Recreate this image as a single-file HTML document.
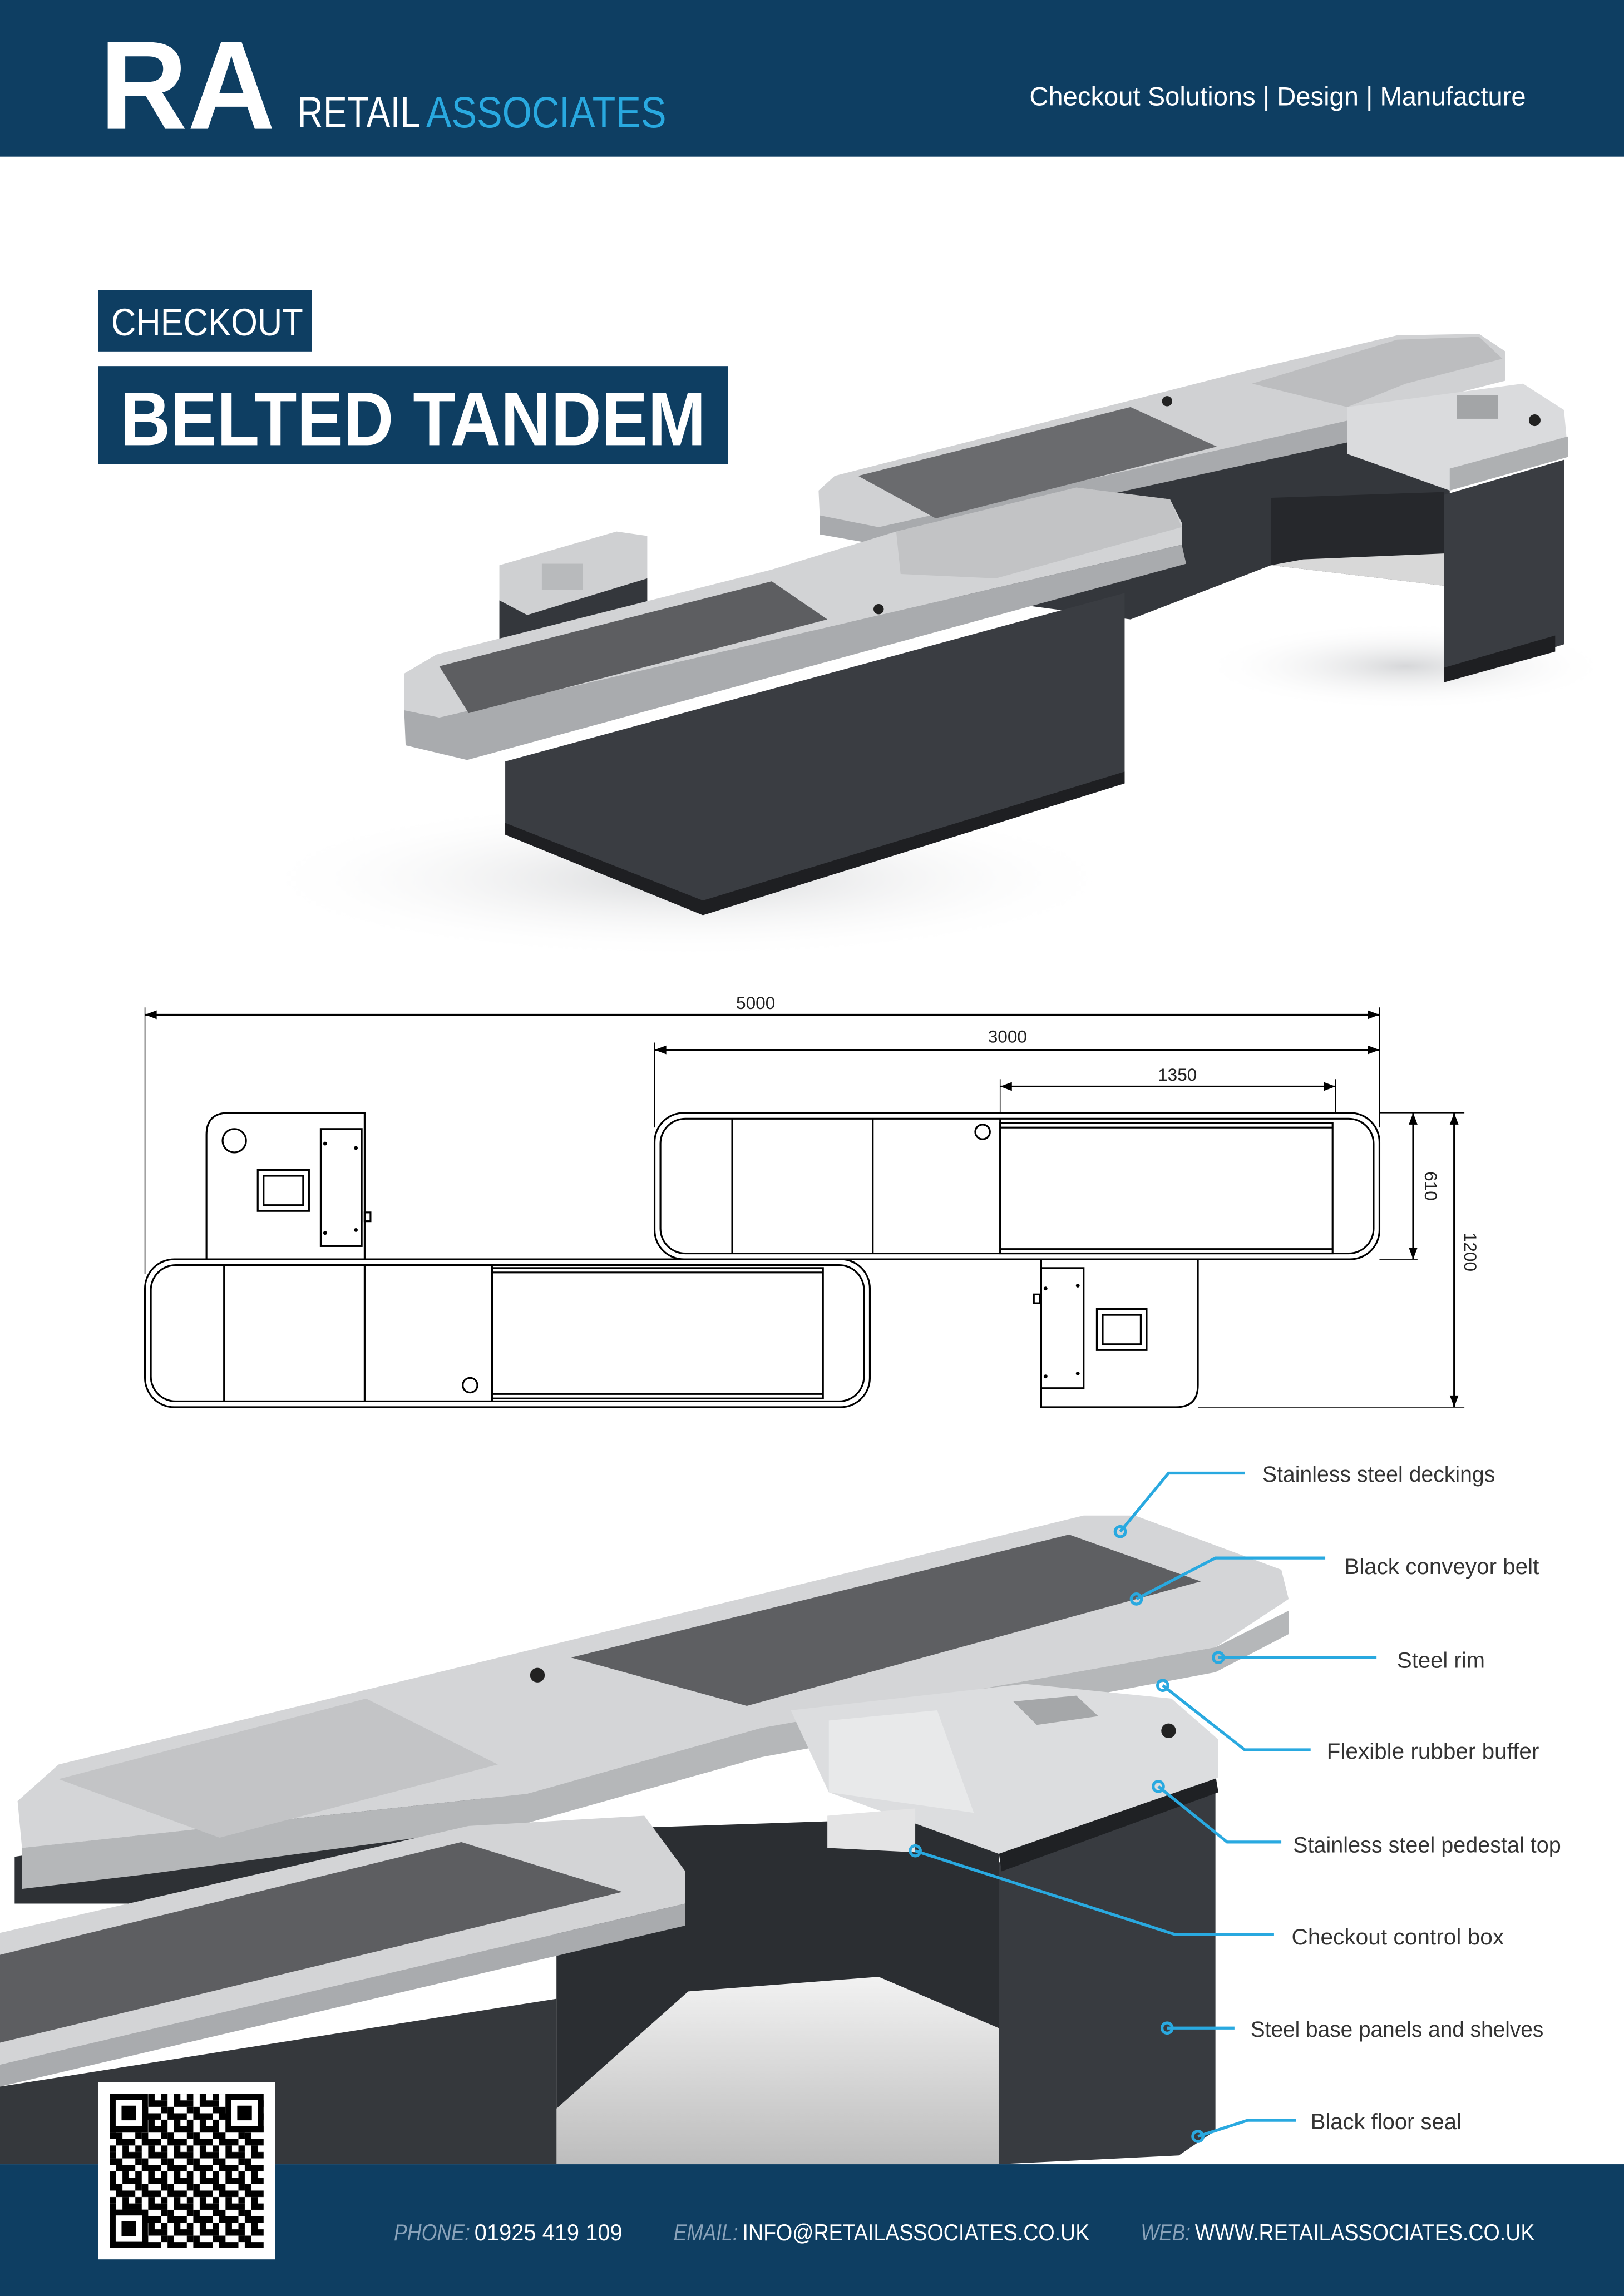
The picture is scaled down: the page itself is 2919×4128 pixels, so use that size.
<!DOCTYPE html>
<html><head><meta charset="utf-8"><style>
html,body{margin:0;padding:0;background:#fff;}
svg{display:block;}
</style></head><body>
<svg xmlns="http://www.w3.org/2000/svg" width="2919" height="4128" viewBox="0 0 1109 1568" preserveAspectRatio="none">
<defs>
<radialGradient id="sh" cx="50%" cy="50%" r="50%"><stop offset="0" stop-color="#d6d7d9"/><stop offset="1" stop-color="#fff" stop-opacity="0"/></radialGradient>
<linearGradient id="fl" x1="0" y1="0" x2="0" y2="1"><stop offset="0" stop-color="#f2f2f2"/><stop offset="1" stop-color="#bdbdbd"/></linearGradient>
<pattern id="qr" width="17.6" height="17.6" patternUnits="userSpaceOnUse">
<rect x="0" y="0" width="4.4" height="4.4" fill="#000"/><rect x="8.8" y="0" width="8.8" height="4.4" fill="#000"/>
<rect x="4.4" y="4.4" width="4.4" height="4.4" fill="#000"/><rect x="13.2" y="4.4" width="4.4" height="8.8" fill="#000"/>
<rect x="0" y="8.8" width="8.8" height="4.4" fill="#000"/><rect x="4.4" y="13.2" width="4.4" height="4.4" fill="#000"/>
<rect x="8.8" y="13.2" width="4.4" height="4.4" fill="#000"/>
</pattern>
</defs>

<!-- header -->
<rect x="0" y="0" width="1109" height="107" fill="#0e3e62"/>
<text x="68" y="88" font-family="Liberation Sans, sans-serif" font-weight="bold" font-size="86" fill="#fff" textLength="120" lengthAdjust="spacingAndGlyphs">RA</text>
<text x="203" y="87" font-family="Liberation Sans, sans-serif" font-size="30" fill="#fff" textLength="84" lengthAdjust="spacingAndGlyphs">RETAIL</text>
<text x="291" y="87" font-family="Liberation Sans, sans-serif" font-size="30" fill="#29a9e0" textLength="164" lengthAdjust="spacingAndGlyphs">ASSOCIATES</text>
<text x="703" y="72" font-family="Liberation Sans, sans-serif" font-size="18" fill="#fff" textLength="339" lengthAdjust="spacingAndGlyphs">Checkout Solutions | Design | Manufacture</text>

<!-- titles -->
<rect x="67" y="198" width="146" height="42" fill="#0e3e62"/>
<text x="76" y="229" font-family="Liberation Sans, sans-serif" font-size="26" fill="#fff" textLength="131" lengthAdjust="spacingAndGlyphs">CHECKOUT</text>
<rect x="67" y="250" width="430" height="67" fill="#0e3e62"/>
<text x="82" y="304" font-family="Liberation Sans, sans-serif" font-weight="bold" font-size="52" fill="#fff" textLength="400" lengthAdjust="spacingAndGlyphs">BELTED TANDEM</text>

<!-- top render -->
<ellipse cx="470" cy="600" rx="300" ry="55" fill="url(#sh)"/>
<ellipse cx="960" cy="455" rx="140" ry="30" fill="url(#sh)"/>
<polygon points="600,365 920,300 990,330 990,400 868,386 772,423 600,400" fill="#34373c"/>
<polygon points="868,340 986,336 986,400 868,386" fill="#26282c"/>
<polygon points="890,382 986,378 986,400 868,386" fill="#d8d8d8"/>
<polygon points="986,338 1068,314 1068,440 986,466" fill="#3a3d42"/>
<polygon points="986,456 1062,434 1062,445 986,466" fill="#1e1f22"/>
<polygon points="559,335 570,325 852,253 954,229 1010,228 1028,240 1028,260 930,285 600,360 560,357" fill="#d0d1d3"/>
<polygon points="560,352 600,360 930,285 930,300 600,372 560,365" fill="#a8aaad"/>
<polygon points="586,325 772,278 831,305 639,354" fill="#6a6b6e"/>
<polygon points="855,262 954,232 1010,230 1026,245 960,262 920,278" fill="#bcbdbf"/>
<polygon points="920,278 1040,262 1068,280 1071,312 990,335 920,310" fill="#dadbdd"/>
<polygon points="990,320 1071,298 1071,312 990,335" fill="#aeb0b2"/>
<rect x="995" y="270" width="28" height="16" fill="#a3a5a7"/>
<circle cx="1048" cy="287" r="4" fill="#222"/><circle cx="797" cy="274" r="3.5" fill="#222"/>
<polygon points="341,386 421,363 442,366 442,395 360,420 341,410" fill="#cfd0d2"/>
<polygon points="341,410 360,420 442,395 442,420 341,440" fill="#34373c"/>
<rect x="370" y="385" width="28" height="18" fill="#b8babc"/>
<polygon points="345,520 768,405 768,535 480,625 345,570" fill="#3a3d42"/>
<polygon points="345,562 480,615 768,527 768,535 480,625 345,570" fill="#1e1f22"/>
<polygon points="276,460 298,447 527,389 612,363 735,333 799,341 807,357 807,372 300,490 276,485" fill="#d2d3d5"/>
<polygon points="276,485 300,490 807,372 810,385 319,519 277,509" fill="#a9abae"/>
<polygon points="300,455 527,397 565,423 320,487" fill="#5d5e61"/>
<polygon points="612,363 735,333 799,341 807,360 680,395 615,392" fill="#c2c3c5"/>
<circle cx="600" cy="416" r="3.5" fill="#222"/>

<!-- drawing -->
<g fill="none" stroke="#000" stroke-width="1.2">
<line x1="99" y1="693" x2="942" y2="693"/><line x1="447" y1="717" x2="942" y2="717"/><line x1="683" y1="742" x2="912" y2="742"/>
<line x1="99" y1="688" x2="99" y2="870" stroke-width="0.6"/><line x1="447" y1="712" x2="447" y2="770" stroke-width="0.6"/>
<line x1="942" y1="688" x2="942" y2="770" stroke-width="0.6"/><line x1="683" y1="737" x2="683" y2="760" stroke-width="0.6"/><line x1="912" y1="737" x2="912" y2="760" stroke-width="0.6"/>
<line x1="965" y1="760" x2="965" y2="860"/><line x1="993" y1="760" x2="993" y2="961"/>
<line x1="942" y1="760" x2="1000" y2="760" stroke-width="0.6"/><line x1="942" y1="860" x2="968" y2="860" stroke-width="0.6"/><line x1="818" y1="961" x2="1000" y2="961" stroke-width="0.6"/>
<rect x="447" y="760" width="495" height="100" rx="20"/><rect x="451" y="764" width="487" height="92" rx="17"/>
<line x1="500" y1="764" x2="500" y2="856"/><line x1="596" y1="764" x2="596" y2="856"/><line x1="683" y1="764" x2="683" y2="856"/>
<rect x="683" y="767" width="227" height="89"/><line x1="683" y1="770" x2="910" y2="770"/><line x1="683" y1="853" x2="910" y2="853"/>
<circle cx="671" cy="773" r="5"/>
<path d="M141,860 V775 Q141,760 156,760 H249 V860"/><circle cx="160" cy="779" r="8"/>
<rect x="219" y="771" width="28" height="80"/><rect x="249" y="828" width="4" height="6"/>
<rect x="176" y="799" width="35" height="28"/><rect x="180" y="803" width="27" height="20"/>
<rect x="99" y="860" width="495" height="101" rx="20"/><rect x="103" y="864" width="487" height="93" rx="17"/>
<line x1="153" y1="864" x2="153" y2="957"/><line x1="249" y1="864" x2="249" y2="957"/><line x1="336" y1="864" x2="336" y2="957"/>
<rect x="336" y="866" width="226" height="89"/><line x1="336" y1="869" x2="562" y2="869"/><line x1="336" y1="952" x2="562" y2="952"/>
<circle cx="321" cy="946" r="5"/>
<path d="M711,860 V961 H803 Q818,961 818,946 V860"/>
<rect x="711" y="866" width="29" height="82"/><rect x="706" y="884" width="4" height="6"/>
<rect x="749" y="894" width="34" height="28"/><rect x="753" y="898" width="26" height="20"/>
</g>
<g fill="#000">
<circle cx="222" cy="781" r="1.3"/><circle cx="243" cy="784" r="1.3"/><circle cx="222" cy="842" r="1.3"/><circle cx="243" cy="840" r="1.3"/>
<circle cx="714" cy="880" r="1.3"/><circle cx="736" cy="878" r="1.3"/><circle cx="714" cy="940" r="1.3"/><circle cx="736" cy="938" r="1.3"/>
<polygon points="99,693 107,690 107,696"/><polygon points="942,693 934,690 934,696"/>
<polygon points="447,717 455,714 455,720"/><polygon points="942,717 934,714 934,720"/>
<polygon points="683,742 691,739 691,745"/><polygon points="912,742 904,739 904,745"/>
<polygon points="965,760 962,768 968,768"/><polygon points="965,860 962,852 968,852"/>
<polygon points="993,760 990,768 996,768"/><polygon points="993,961 990,953 996,953"/>
</g>
<g font-family="Liberation Sans, sans-serif" font-size="12" fill="#222">
<text x="516" y="689" text-anchor="middle">5000</text>
<text x="688" y="712" text-anchor="middle">3000</text>
<text x="804" y="738" text-anchor="middle">1350</text>
<text transform="translate(973,810) rotate(90)" text-anchor="middle">610</text>
<text transform="translate(1000,855) rotate(90)" text-anchor="middle">1200</text>
</g>

<!-- bottom render -->
<polygon points="380,1250 682,1240 682,1478 380,1478" fill="#2b2e32"/>
<polygon points="380,1440 470,1360 600,1350 682,1385 682,1478 380,1478" fill="url(#fl)"/>
<polygon points="10,1268 330,1220 330,1300 10,1300" fill="#2e3135"/>
<polygon points="682,1272 830,1220 830,1455 805,1472 682,1478" fill="#383b40"/>
<polygon points="682,1265 830,1212 832,1224 684,1278" fill="#1f2124"/>
<polygon points="12,1230 40,1205 740,1035 775,1035 875,1072 880,1092 830,1125 520,1180 360,1225 15,1262" fill="#d4d5d7"/>
<polygon points="15,1262 360,1225 520,1180 830,1125 880,1100 880,1116 830,1142 520,1200 360,1245 100,1280 15,1290" fill="#b5b7b9"/>
<polygon points="40,1215 250,1160 340,1205 150,1255" fill="#c3c4c6"/>
<polygon points="390,1132 730,1048 820,1080 510,1165" fill="#5e5f62"/>
<polygon points="540,1168 700,1150 800,1160 832,1188 832,1214 682,1266 566,1224" fill="#dcdddf"/>
<polygon points="566,1175 640,1168 665,1238 566,1224" fill="#e8e9ea"/>
<polygon points="692,1162 735,1158 750,1172 708,1178" fill="#a5a7a9"/>
<circle cx="798" cy="1182" r="5" fill="#222"/><circle cx="367" cy="1144" r="5" fill="#222"/>
<polygon points="565,1240 625,1235 625,1265 565,1262" fill="#e4e4e5"/>
<polygon points="0,1320 320,1247 440,1240 468,1278 468,1300 0,1410" fill="#d3d4d6"/>
<polygon points="0,1410 468,1300 468,1315 0,1425" fill="#a9abae"/>
<polygon points="0,1335 315,1258 425,1292 0,1395" fill="#5d5e61"/>
<polygon points="0,1425 380,1365 380,1478 0,1478" fill="#35383c"/>

<!-- callouts -->
<g fill="none" stroke="#29a9e0" stroke-width="2">
<polyline points="765,1046 798,1006 850,1006"/><circle cx="765" cy="1046" r="3.5"/>
<polyline points="776,1092 830,1064 905,1064"/><circle cx="776" cy="1092" r="3.5"/>
<polyline points="832,1132 940,1132"/><circle cx="832" cy="1132" r="3.5"/>
<polyline points="794,1151 850,1195 895,1195"/><circle cx="794" cy="1151" r="3.5"/>
<polyline points="791,1220 838,1258 875,1258"/><circle cx="791" cy="1220" r="3.5"/>
<polyline points="625,1264 802,1321 870,1321"/><circle cx="625" cy="1264" r="3.5"/>
<polyline points="797,1385 843,1385"/><circle cx="797" cy="1385" r="3.5"/>
<polyline points="818,1459 852,1448 885,1448"/><circle cx="818" cy="1459" r="3.5"/>
</g>
<g font-family="Liberation Sans, sans-serif" font-size="15" fill="#333">
<text x="862" y="1012" textLength="159" lengthAdjust="spacingAndGlyphs">Stainless steel deckings</text>
<text x="918" y="1075" textLength="133" lengthAdjust="spacingAndGlyphs">Black conveyor belt</text>
<text x="954" y="1139" textLength="60" lengthAdjust="spacingAndGlyphs">Steel rim</text>
<text x="906" y="1201" textLength="145" lengthAdjust="spacingAndGlyphs">Flexible rubber buffer</text>
<text x="883" y="1265" textLength="183" lengthAdjust="spacingAndGlyphs">Stainless steel pedestal top</text>
<text x="882" y="1328" textLength="145" lengthAdjust="spacingAndGlyphs">Checkout control box</text>
<text x="854" y="1391" textLength="200" lengthAdjust="spacingAndGlyphs">Steel base panels and shelves</text>
<text x="895" y="1454" textLength="103" lengthAdjust="spacingAndGlyphs">Black floor seal</text>
</g>

<!-- footer -->
<rect x="0" y="1478" width="1109" height="90" fill="#0e3e62"/>
<g font-family="Liberation Sans, sans-serif" font-size="16">
<text x="269" y="1530" fill="#8aa3ba" font-style="italic" textLength="52" lengthAdjust="spacingAndGlyphs">PHONE:</text>
<text x="324" y="1530" fill="#fff" textLength="101" lengthAdjust="spacingAndGlyphs">01925 419 109</text>
<text x="460" y="1530" fill="#8aa3ba" font-style="italic" textLength="44" lengthAdjust="spacingAndGlyphs">EMAIL:</text>
<text x="507" y="1530" fill="#fff" textLength="237" lengthAdjust="spacingAndGlyphs">INFO@RETAILASSOCIATES.CO.UK</text>
<text x="779" y="1530" fill="#8aa3ba" font-style="italic" textLength="34" lengthAdjust="spacingAndGlyphs">WEB:</text>
<text x="816" y="1530" fill="#fff" textLength="232" lengthAdjust="spacingAndGlyphs">WWW.RETAILASSOCIATES.CO.UK</text>
</g>

<!-- QR -->
<rect x="67" y="1422" width="121" height="121" fill="#fff"/>
<rect x="75" y="1430" width="105" height="105" fill="url(#qr)"/>
<g>
<rect x="75" y="1430" width="26" height="26" fill="#000"/><rect x="79" y="1434" width="18" height="18" fill="#fff"/><rect x="83" y="1438" width="10" height="10" fill="#000"/>
<rect x="154" y="1430" width="26" height="26" fill="#000"/><rect x="158" y="1434" width="18" height="18" fill="#fff"/><rect x="162" y="1438" width="10" height="10" fill="#000"/>
<rect x="75" y="1509" width="26" height="26" fill="#000"/><rect x="79" y="1513" width="18" height="18" fill="#fff"/><rect x="83" y="1517" width="10" height="10" fill="#000"/>
</g>
</svg>
</body></html>
